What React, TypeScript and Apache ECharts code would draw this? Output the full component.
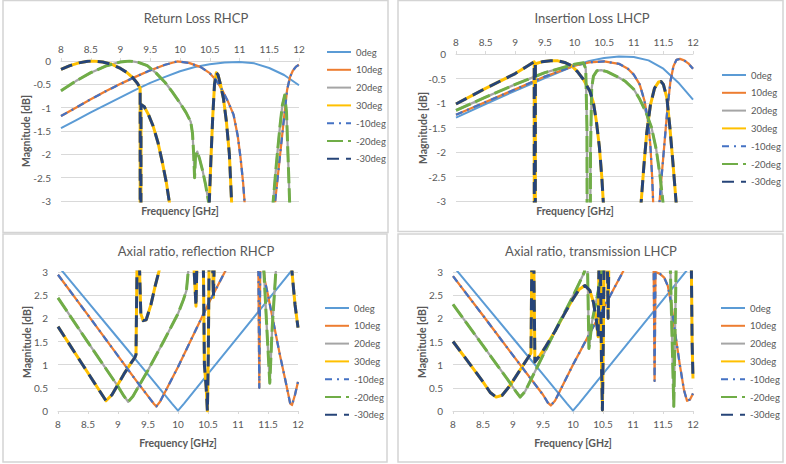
import React, { useEffect, useRef } from 'react';
import * as echarts from 'echarts';

const FONT = 'Lato, "Noto Sans", sans-serif';
const TEXT = '#595959';
const GRID = '#d9d9d9';

const angleNames = ['0deg', '10deg', '20deg', '30deg', '-10deg', '-20deg', '-30deg'];
const freqTicks = { min: 8, max: 12, step: 0.5 };

// Return Loss RHCP [GHz, dB]
const rlRhcp0 = [[8,-1.44],[8.25,-1.27],[8.5,-1.1],[8.75,-0.94],[9,-0.78],[9.25,-0.62],[9.5,-0.47],[9.75,-0.34],[10,-0.22],[10.25,-0.13],[10.5,-0.07],[10.75,-0.03],[11,-0.02],[11.25,-0.05],[11.5,-0.15],[11.75,-0.3],[12,-0.52]];
const rlRhcp10 = [[8,-1.18],[8.25,-1.0],[8.5,-0.82],[8.75,-0.65],[9,-0.49],[9.25,-0.34],[9.5,-0.2],[9.75,-0.08],[9.95,-0.01],[10.15,-0.04],[10.35,-0.13],[10.5,-0.26],[10.6,-0.4],[10.7,-0.6],[10.8,-0.85],[10.9,-1.15],[10.97,-1.6],[11.02,-2.1],[11.06,-2.6],[11.09,-3.1],[11.2,-7],[11.4,-12],[11.55,-6],[11.6,-3.0],[11.65,-2.4],[11.7,-1.8],[11.75,-1.2],[11.8,-0.62],[11.85,-0.34],[11.9,-0.2],[11.95,-0.12],[12,-0.08]];
const rlRhcp20 = [[8,-0.64],[8.25,-0.43],[8.5,-0.25],[8.75,-0.11],[9,-0.02],[9.15,0],[9.3,-0.03],[9.45,-0.1],[9.6,-0.26],[9.75,-0.46],[9.87,-0.66],[10,-0.9],[10.1,-1.1],[10.18,-1.3],[10.21,-1.55],[10.23,-2.0],[10.245,-2.5],[10.26,-2.05],[10.29,-1.94],[10.33,-2.1],[10.38,-2.35],[10.43,-2.65],[10.49,-3.1],[10.6,-8],[11.3,-12],[11.5,-5],[11.56,-3.1],[11.62,-2.2],[11.68,-1.4],[11.72,-0.95],[11.76,-0.73],[11.79,-1.1],[11.82,-2.2],[11.85,-3.3],[11.9,-7],[12,-10]];
const rlRhcp30 = [[8,-0.18],[8.15,-0.1],[8.3,-0.04],[8.45,-0.005],[8.55,0],[8.7,-0.02],[8.85,-0.07],[9,-0.16],[9.1,-0.24],[9.2,-0.35],[9.28,-0.47],[9.33,-0.58],[9.335,-20],[9.345,-0.93],[9.4,-0.98],[9.47,-1.15],[9.55,-1.4],[9.63,-1.75],[9.7,-2.15],[9.77,-2.6],[9.83,-3.1],[9.95,-8],[10.35,-10],[10.49,-3.1],[10.52,-2.1],[10.55,-1.2],[10.58,-0.5],[10.61,-0.25],[10.64,-0.3],[10.68,-0.5],[10.73,-0.8],[10.78,-1.3],[10.83,-2.0],[10.87,-3.1],[10.95,-7],[12,-12]];

// Insertion Loss LHCP [GHz, dB]
const ilLhcp0 = [[8,-1.3],[8.5,-1.02],[9,-0.75],[9.5,-0.49],[10,-0.24],[10.25,-0.14],[10.5,-0.08],[10.75,-0.05],[11,-0.06],[11.25,-0.13],[11.5,-0.3],[11.75,-0.58],[12,-0.93]];
const ilLhcp10 = [[8,-1.24],[8.5,-0.98],[9,-0.72],[9.5,-0.46],[10,-0.24],[10.25,-0.17],[10.5,-0.15],[10.75,-0.2],[10.9,-0.3],[11,-0.42],[11.1,-0.62],[11.18,-0.95],[11.24,-1.35],[11.28,-1.85],[11.31,-2.5],[11.33,-3.1],[11.38,-8],[11.43,-3.1],[11.47,-2.5],[11.52,-1.8],[11.57,-1.1],[11.62,-0.55],[11.67,-0.25],[11.72,-0.12],[11.78,-0.1],[11.85,-0.13],[11.92,-0.19],[12,-0.3]];
const ilLhcp20 = [[8,-1.15],[8.5,-0.88],[9,-0.62],[9.5,-0.38],[10,-0.21],[10.15,-0.18],[10.19,-0.3],[10.21,-1.5],[10.24,-20],[10.27,-2],[10.29,-0.7],[10.32,-0.45],[10.38,-0.34],[10.45,-0.33],[10.55,-0.36],[10.7,-0.45],[10.85,-0.55],[11,-0.72],[11.1,-0.92],[11.2,-1.17],[11.3,-1.5],[11.38,-1.95],[11.44,-2.45],[11.5,-3.1],[11.55,-6],[12,-10]];
const ilLhcp30 = [[8,-1.02],[8.5,-0.7],[9,-0.4],[9.2,-0.25],[9.32,-0.16],[9.33,-25],[9.34,-0.2],[9.45,-0.16],[9.6,-0.14],[9.72,-0.14],[9.85,-0.18],[9.95,-0.24],[10.05,-0.36],[10.15,-0.52],[10.26,-0.76],[10.32,-1.0],[10.37,-1.38],[10.42,-1.9],[10.46,-2.5],[10.49,-3.1],[10.6,-10],[11,-10],[11.12,-3.1],[11.17,-2.3],[11.22,-1.6],[11.28,-1.05],[11.35,-0.7],[11.42,-0.57],[11.46,-0.56],[11.5,-0.62],[11.56,-0.9],[11.61,-1.5],[11.66,-2.2],[11.72,-3.1],[11.8,-10],[12,-12]];

// Axial ratio, reflection RHCP [GHz, dB]
const arRefl0 = [[8,3.13],[8.5,2.35],[9,1.57],[9.5,0.79],[9.9,0.16],[10,0.01],[10.1,0.16],[10.5,0.8],[11,1.6],[11.5,2.4],[12,3.2]];
const arRefl10 = [[8,2.94],[8.5,2.07],[9,1.19],[9.3,0.66],[9.5,0.32],[9.6,0.15],[9.64,0.1],[9.7,0.2],[10,0.95],[10.5,2.3],[10.78,3.0],[10.9,3.4],[11.3,3.5],[11.34,3.0],[11.355,0.5],[11.37,3.0],[11.4,3.4],[11.45,2.8],[11.5,2.5],[11.6,1.85],[11.7,1.2],[11.8,0.6],[11.87,0.16],[11.9,0.13],[11.95,0.35],[12,0.63]];
const arRefl20 = [[8,2.44],[8.5,1.48],[9,0.53],[9.1,0.32],[9.17,0.2],[9.25,0.32],[9.5,0.88],[9.75,1.48],[10,2.1],[10.09,2.4],[10.14,2.6],[10.17,3.0],[10.2,3.6],[11,4],[11.42,3.3],[11.48,1.8],[11.53,0.6],[11.57,1.8],[11.64,3.2],[11.7,4],[12,4]];
const arRefl30 = [[8,1.82],[8.4,1.02],[8.7,0.42],[8.8,0.22],[8.9,0.35],[9.1,0.8],[9.23,1.06],[9.28,1.15],[9.3,1.22],[9.32,3.5],[9.35,3.5],[9.38,2.1],[9.42,1.95],[9.47,1.97],[9.55,2.3],[9.62,2.7],[9.69,3.05],[9.8,3.6],[10.25,3.5],[10.3,2.26],[10.32,3.5],[10.42,3.5],[10.44,1.0],[10.47,0.5],[10.49,0.0],[10.505,1.2],[10.52,3.5],[10.57,3.5],[10.59,2.45],[10.61,3.5],[10.9,4],[11.85,4],[11.9,3.0],[11.95,2.3],[12,1.8]];

// Axial ratio, transmission LHCP [GHz, dB]
const arTrans0 = [[8,3.13],[8.5,2.35],[9,1.57],[9.5,0.79],[9.9,0.16],[10,0.01],[10.1,0.16],[10.5,0.8],[11,1.6],[11.5,2.4],[12,3.2]];
const arTrans10 = [[8,2.91],[8.5,2.06],[9,1.2],[9.3,0.69],[9.5,0.35],[9.58,0.18],[9.63,0.12],[9.7,0.22],[10,1.0],[10.33,1.8],[10.5,2.2],[10.83,3.0],[10.95,3.4],[11.3,3.5],[11.345,3.0],[11.36,0.65],[11.375,3.0],[11.45,2.96],[11.52,2.88],[11.58,2.7],[11.64,2.3],[11.7,1.7],[11.78,1.0],[11.85,0.45],[11.9,0.22],[11.95,0.25],[12,0.38]];
const arTrans20 = [[8,2.3],[8.5,1.41],[8.9,0.7],[9.05,0.42],[9.12,0.3],[9.2,0.42],[9.5,1.2],[9.75,1.85],[10,2.48],[10.1,2.75],[10.19,3.0],[10.21,3.4],[10.24,3.3],[10.265,1.35],[10.28,1.5],[10.32,1.95],[10.4,2.45],[10.48,3.0],[10.55,3.5],[11.55,4],[11.62,3.2],[11.68,0.1],[11.72,3.2],[11.8,4],[12,4]];
const arTrans30 = [[8,1.5],[8.3,0.98],[8.5,0.63],[8.62,0.4],[8.72,0.3],[8.82,0.34],[8.95,0.55],[9.1,0.85],[9.25,1.15],[9.3,1.25],[9.315,3.5],[9.345,3.5],[9.365,1.06],[9.45,1.2],[9.55,1.4],[9.7,1.72],[9.85,2.08],[10,2.42],[10.1,2.62],[10.2,2.71],[10.28,2.6],[10.34,2.35],[10.39,1.95],[10.42,1.6],[10.435,3.5],[10.455,3.5],[10.475,1.0],[10.49,0.02],[10.505,1.5],[10.52,3.5],[10.57,3.5],[10.585,2.0],[10.6,3.5],[10.9,4],[11.9,4],[11.97,3.5],[11.985,1.5],[12,0.7]];

// +/- angle pairs give identical curves, so each pair shares one array
const panels = [
  {
    title: 'Return Loss RHCP',
    curves: [rlRhcp0, rlRhcp10, rlRhcp20, rlRhcp30, rlRhcp10, rlRhcp20, rlRhcp30],
    yMin: -3, yMax: 0, xTop: true,
    grid: { left: 61, top: 61, width: 238, height: 140 },
    frame: { x: 3, y: 0.5, width: 385, height: 232 },
    titlePos: [196, 18], freqPos: [180, 211], magPos: [26, 131],
    legendPos: [321, 41],
  },
  {
    title: 'Insertion Loss LHCP',
    curves: [ilLhcp0, ilLhcp10, ilLhcp20, ilLhcp30, ilLhcp10, ilLhcp20, ilLhcp30],
    yMin: -3, yMax: 0, xTop: true,
    grid: { left: 456, top: 54, width: 237, height: 147 },
    frame: { x: 398, y: 0.5, width: 385, height: 231 },
    titlePos: [592, 18], freqPos: [575, 211], magPos: [423, 128],
    legendPos: [716, 64],
  },
  {
    title: 'Axial ratio, reflection RHCP',
    curves: [arRefl0, arRefl10, arRefl20, arRefl30, arRefl10, arRefl20, arRefl30],
    yMin: 0, yMax: 3, xTop: false,
    grid: { left: 58, top: 272, width: 240, height: 139 },
    frame: { x: 3, y: 234, width: 384, height: 228 },
    titlePos: [196, 251], freqPos: [178, 443], magPos: [27, 342],
    legendPos: [319, 297],
  },
  {
    title: 'Axial ratio, transmission LHCP',
    curves: [arTrans0, arTrans10, arTrans20, arTrans30, arTrans10, arTrans20, arTrans30],
    yMin: 0, yMax: 3, xTop: false,
    grid: { left: 453, top: 272, width: 240, height: 139 },
    frame: { x: 398, y: 234, width: 385, height: 228 },
    titlePos: [591, 251], freqPos: [573, 443], magPos: [422, 342],
    legendPos: [715, 297],
  },
];

const lineStyles: Record<string, { color: string; width: number; type: any }> = {
  '0deg': { color: '#5B9BD5', width: 2, type: 'solid' },
  '10deg': { color: '#ED7D31', width: 2.25, type: 'solid' },
  '20deg': { color: '#A5A5A5', width: 2.25, type: 'solid' },
  '30deg': { color: '#FFC000', width: 3, type: 'solid' },
  '-10deg': { color: '#4472C4', width: 2.25, type: [7, 5, 2, 5] },
  '-20deg': { color: '#70AD47', width: 3, type: [16, 5] },
  '-30deg': { color: '#264478', width: 3, type: [12, 7] },
};

function buildOption() {
  const grid: any[] = [];
  const xAxis: any[] = [];
  const yAxis: any[] = [];
  const series: any[] = [];
  const legend: any[] = [];
  const graphic: any[] = [];

  panels.forEach((p, i) => {
    grid.push({ ...p.grid, containLabel: false });
    xAxis.push({
      gridIndex: i,
      type: 'value',
      min: freqTicks.min,
      max: freqTicks.max,
      interval: freqTicks.step,
      position: p.xTop ? 'top' : 'bottom',
      axisLine: { show: true, onZero: false, lineStyle: { color: GRID, width: 1 } },
      axisTick: { show: true, length: 3, lineStyle: { color: GRID } },
      axisLabel: { color: TEXT, fontSize: 10, fontFamily: FONT, margin: p.xTop ? 7 : 8 },
      splitLine: { show: false },
    });
    yAxis.push({
      gridIndex: i,
      type: 'value',
      min: p.yMin,
      max: p.yMax,
      interval: 0.5,
      axisLine: { show: false, onZero: false },
      axisTick: { show: false },
      axisLabel: { color: TEXT, fontSize: 10, fontFamily: FONT, margin: 10 },
      splitLine: { show: true, lineStyle: { color: GRID, width: 1 } },
    });
    angleNames.forEach((name, k) => {
      const st = lineStyles[name];
      series.push({
        type: 'line',
        name,
        xAxisIndex: i,
        yAxisIndex: i,
        data: p.curves[k],
        symbol: 'none',
        showSymbol: false,
        clip: true,
        silent: true,
        color: st.color,
        lineStyle: { color: st.color, width: st.width, type: st.type, cap: 'butt', join: 'round' },
        emphasis: { disabled: true },
      });
    });
    legend.push({
      orient: 'vertical',
      left: p.legendPos[0],
      top: p.legendPos[1],
      itemWidth: 24,
      itemHeight: 12,
      itemGap: 5.8,
      selectedMode: false,
      data: angleNames,
      itemStyle: { color: 'rgba(0,0,0,0)', borderWidth: 0, opacity: 0 },
      textStyle: { color: TEXT, fontSize: 9.5, fontFamily: FONT, lineHeight: 12 },
    });
    graphic.push({
      type: 'rect',
      silent: true,
      shape: { ...p.frame },
      style: { fill: 'rgba(0,0,0,0)', stroke: '#d4d4d4', lineWidth: 1.5 },
    });
    graphic.push({
      type: 'text',
      silent: true,
      x: p.titlePos[0],
      y: p.titlePos[1],
      style: { text: p.title, fill: TEXT, fontSize: 13, fontFamily: FONT, align: 'center', verticalAlign: 'middle' },
    });
    graphic.push({
      type: 'text',
      silent: true,
      x: p.freqPos[0],
      y: p.freqPos[1],
      style: { text: 'Frequency [GHz]', fill: TEXT, fontSize: 10.5, fontWeight: 'bold', fontFamily: FONT, align: 'center', verticalAlign: 'middle' },
    });
    graphic.push({
      type: 'text',
      silent: true,
      x: p.magPos[0],
      y: p.magPos[1],
      rotation: Math.PI / 2,
      style: { text: 'Magnitude [dB]', fill: TEXT, fontSize: 10.5, fontWeight: 'bold', fontFamily: FONT, align: 'center', verticalAlign: 'middle' },
    });
  });

  return {
    animation: false,
    backgroundColor: '#ffffff',
    grid,
    xAxis,
    yAxis,
    series,
    legend,
    graphic,
  };
}

export default function App() {
  const ref = useRef<HTMLDivElement>(null);
  useEffect(() => {
    if (!ref.current) return;
    const chart = echarts.init(ref.current, null, { renderer: 'svg' });
    chart.setOption(buildOption());
    return () => chart.dispose();
  }, []);
  return (
    <div
      ref={ref}
      style={{ position: 'absolute', left: 0, top: 0, width: 786, height: 464, background: '#fff' }}
    />
  );
}
